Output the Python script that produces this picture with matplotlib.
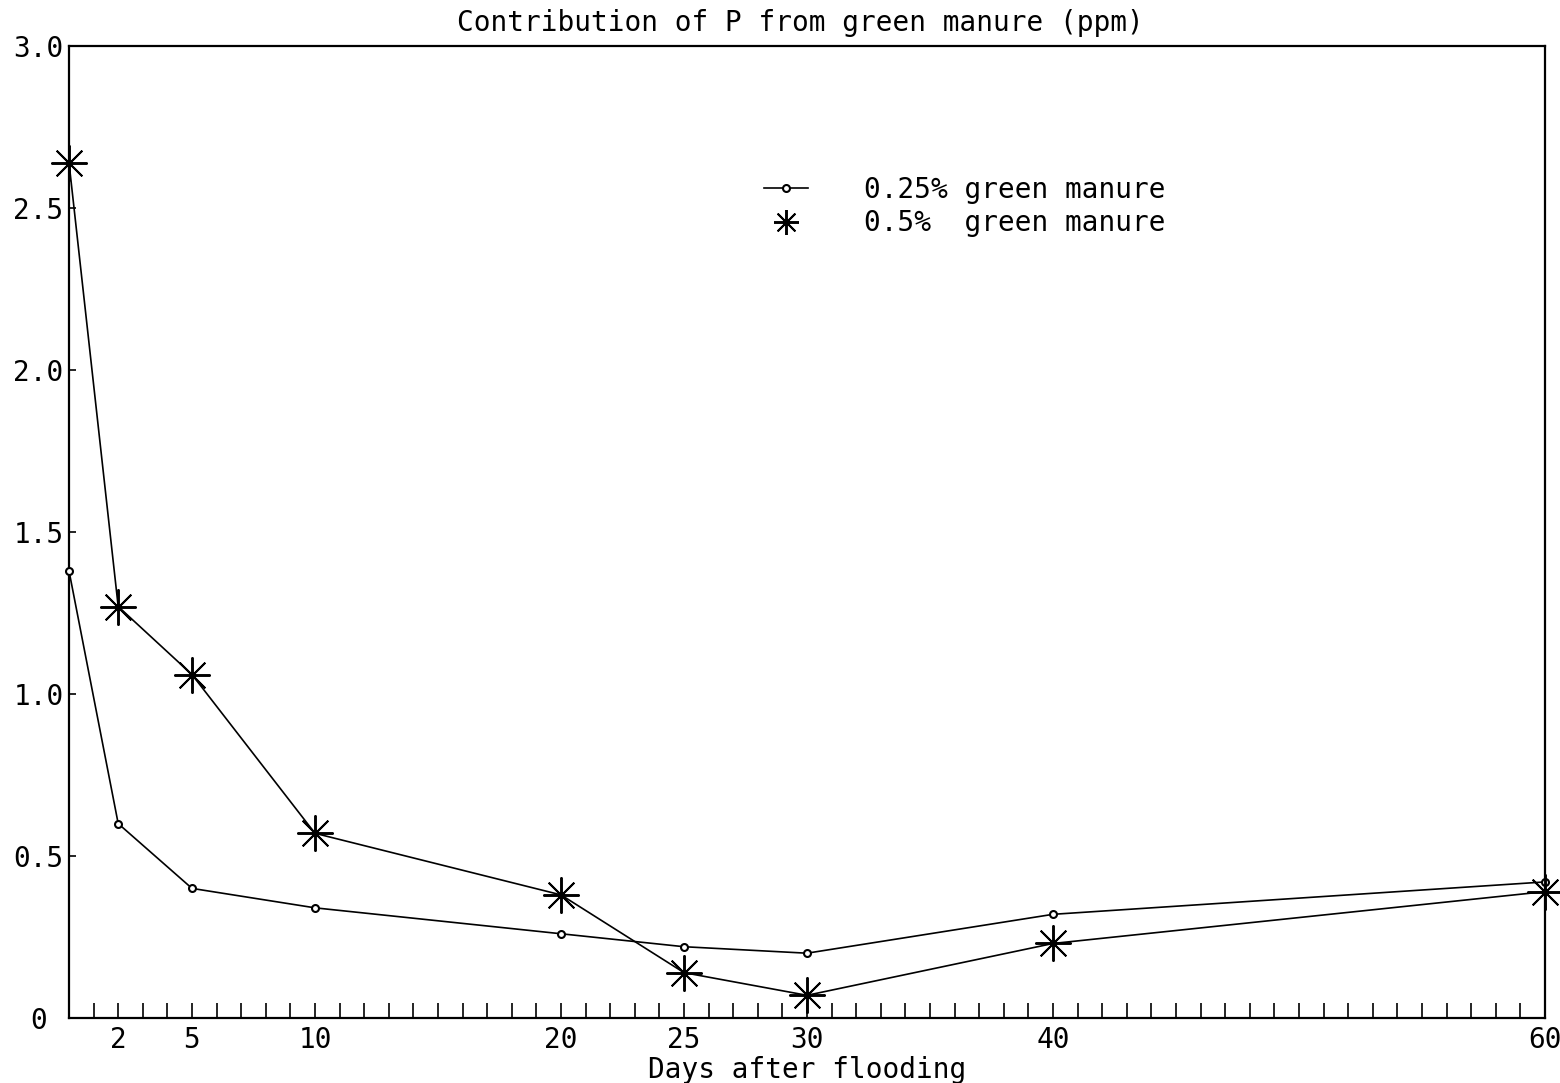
import matplotlib
matplotlib.use("Agg")
import matplotlib.pyplot as plt
from matplotlib.lines import Line2D

# ── Datos ─────────────────────────────────────────────────────────────────────
days = [0, 2, 5, 10, 20, 25, 30, 40, 60]
gm_025 = [1.38, 0.60, 0.40, 0.34, 0.26, 0.22, 0.20, 0.32, 0.42]
gm_050 = [2.64, 1.27, 1.06, 0.57, 0.38, 0.14, 0.07, 0.23, 0.39]
xtick_vals = [2, 5, 10, 20, 25, 30, 40, 60]
ytick_vals = [0, 0.5, 1.0, 1.5, 2.0, 2.5, 3.0]
ytick_labels = ["0", "0.5", "1.0", "1.5", "2.0", "2.5", "3.0"]

FONT = "DejaVu Sans Mono"
FS = 20
ASTER = (8, 2, 0)

plt.rcParams["font.family"] = FONT

fig = plt.figure(figsize=(15.6, 10.83), dpi=100, facecolor="white")
ax = fig.add_axes([69 / 1560, 65 / 1083, (1545 - 69) / 1560, (1018 - 46) / 1083])

ax.plot(days, gm_025, color="black", linewidth=1.2, marker="o", markersize=5,
        markerfacecolor="white", markeredgewidth=1.5, clip_on=False, zorder=3)
ax.plot(days, gm_050, color="black", linewidth=1.2, marker=ASTER, markersize=26,
        markeredgewidth=1.4, clip_on=False, zorder=3)

ax.set_xlim(0, 60)
ax.set_ylim(0, 3.0)

ax.set_xticks(xtick_vals)
ax.set_xticks(range(0, 61), minor=True)
ax.tick_params(axis="x", which="both", direction="in", length=11, width=1.2,
               labelsize=FS, pad=6)
ax.set_yticks(ytick_vals)
ax.set_yticklabels(ytick_labels)
ax.tick_params(axis="y", direction="in", length=5, width=1.2, labelsize=FS, pad=22)
for lbl in ax.get_yticklabels():
    lbl.set_horizontalalignment("center")

for s in ax.spines.values():
    s.set_linewidth(1.6)

ax.set_xlabel("Days after flooding", fontsize=FS, labelpad=1)
fig.text(0.513, 1 - 23 / 1083, "Contribution of P from green manure (ppm)",
         fontsize=FS, ha="center", va="center")

handles = [
    Line2D([], [], color="black", linewidth=1.2, marker="o", markersize=5,
           markerfacecolor="white", markeredgewidth=1.5),
    Line2D([], [], color="black", linestyle="none", marker=ASTER,
           markersize=18, markeredgewidth=1.4),
]
ax.legend(handles, ["0.25% green manure", "0.5%  green manure"],
          loc="upper left", bbox_to_anchor=(750 / 1560, 1 - 162 / 1083),
          bbox_transform=fig.transFigure, frameon=False, fontsize=FS,
          handlelength=1.6, handletextpad=2.0, labelspacing=0.2,
          borderpad=0)

fig.savefig("out.png", dpi=100, facecolor="white")
